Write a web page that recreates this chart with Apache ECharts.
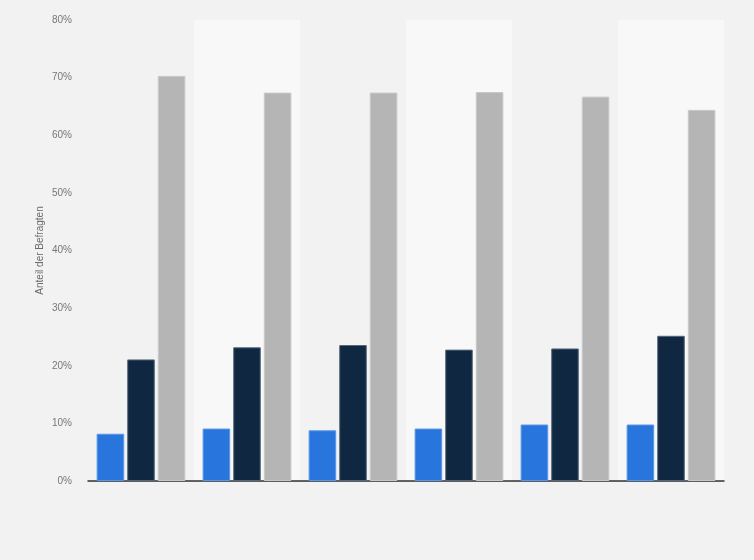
<!DOCTYPE html>
<html>
<head>
<meta charset="utf-8">
<script src="https://cdn.jsdelivr.net/npm/echarts@6/dist/echarts.min.js"></script>
<style>
html,body{margin:0;padding:0;background:#f2f2f2;}
#chart{width:754px;height:560px;}
</style>
</head>
<body>
<div id="chart"></div>
<script>
var categories = ['1', '2', '3', '4', '5', '6'];
var seriesA = [8.2, 9.1, 8.8, 9.1, 9.8, 9.8];
var seriesB = [21.1, 23.2, 23.6, 22.8, 23.0, 25.2];
var seriesC = [70.3, 67.4, 67.4, 67.5, 66.7, 64.4];
var yTicks = [0, 10, 20, 30, 40, 50, 60, 70, 80];

var chart = echarts.init(document.getElementById('chart'));
var barCommon = {
  type: 'bar',
  barWidth: '26%',
  barGap: '11%'
};
chart.setOption({
  backgroundColor: '#f2f2f2',
  animation: false,
  grid: { left: 88, right: 30, top: 20, bottom: 79 },
  xAxis: {
    type: 'category',
    data: categories,
    axisLabel: { show: false },
    axisTick: { show: false },
    axisLine: { lineStyle: { color: '#333333', width: 1.5 } },
    splitArea: { show: true, areaStyle: { color: ['#f2f2f2', '#f8f8f8'] } }
  },
  yAxis: {
    type: 'value',
    min: yTicks[0],
    max: yTicks[yTicks.length - 1],
    interval: 10,
    name: 'Anteil der Befragten',
    nameLocation: 'middle',
    nameGap: 43,
    nameMoveOverlap: false,
    nameTextStyle: { color: '#6a6a6a', fontSize: 10, fontFamily: 'Arial, Liberation Sans, sans-serif' },
    axisLabel: {
      formatter: '{value}%',
      color: '#777777',
      fontSize: 10,
      margin: 16,
      fontFamily: 'Arial, Liberation Sans, sans-serif'
    },
    axisLine: { show: false },
    axisTick: { show: false },
    splitLine: { lineStyle: { color: '#cfcfcf', type: 'dotted', width: 1 } }
  },
  series: [
    Object.assign({}, barCommon, { name: 'A', data: seriesA, itemStyle: { color: '#2876dd', borderColor: '#5a97e6', borderWidth: 1 } }),
    Object.assign({}, barCommon, { name: 'B', data: seriesB, itemStyle: { color: '#0f2740', borderColor: '#56677a', borderWidth: 1 } }),
    Object.assign({}, barCommon, { name: 'C', data: seriesC, itemStyle: { color: '#b5b5b5', borderColor: '#c8c8c8', borderWidth: 1 } })
  ]
});
</script>
</body>
</html>
